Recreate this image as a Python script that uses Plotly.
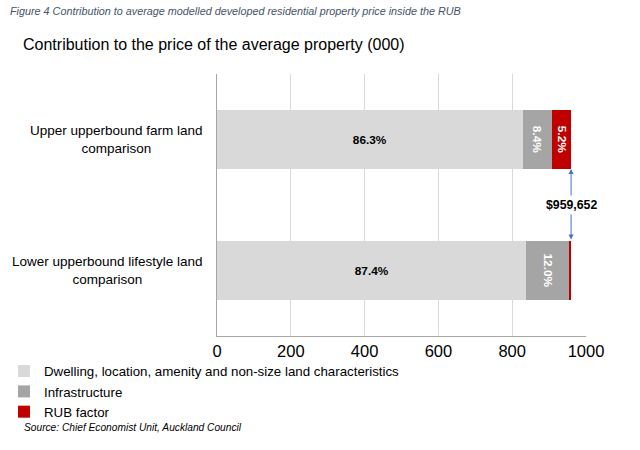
import plotly.graph_objects as go

categories = ["Lower upperbound lifestyle land<br>comparison", "Upper upperbound farm land<br>comparison"]
dwelling = [838.7, 828.2]
infrastructure = [115.2, 80.6]
rub_factor = [5.8, 50.8]
dwelling_labels = ["87.4%", "86.3%"]
infra_labels = ["12.0%", "8.4%"]
rub_labels = ["", "5.2%"]
total_label = "$959,652"
x_ticks = [0, 200, 400, 600, 800, 1000]

FONT = "Liberation Sans, Arial, sans-serif"
total = dwelling[1] + infrastructure[1] + rub_factor[1]

fig = go.Figure()
fig.add_trace(go.Bar(
    y=categories, x=dwelling, orientation="h", name="Dwelling, location, amenity and non-size land characteristics",
    marker=dict(color="#d9d9d9", line=dict(width=0)), text=dwelling_labels, textposition="inside",
    insidetextanchor="middle", textangle=0,
    textfont=dict(family=FONT, size=11.8, color="black", weight="bold"), width=0.45))
fig.add_trace(go.Bar(
    y=categories, x=infrastructure, orientation="h", name="Infrastructure",
    marker=dict(color="#a5a5a5", line=dict(width=0)), text=infra_labels, textposition="inside",
    insidetextanchor="middle", textangle=90, constraintext="none",
    textfont=dict(family=FONT, size=11.8, color="white", weight="bold"), width=0.45))
fig.add_trace(go.Bar(
    y=categories, x=rub_factor, orientation="h", name="RUB factor",
    marker=dict(color="#c00000", line=dict(width=0)), text=rub_labels, textposition="inside",
    insidetextanchor="middle", textangle=90, constraintext="none",
    textfont=dict(family=FONT, size=11.8, color="white", weight="bold"), width=0.45))

# double-headed arrow between bar ends
fig.add_annotation(x=total, y=0.775, ax=total, ay=0.225, xref="x", yref="y", axref="x", ayref="y",
                   showarrow=True, arrowhead=2, startarrowhead=2, arrowside="end+start",
                   arrowsize=1, arrowwidth=1, arrowcolor="#4472c4", text="")
fig.add_annotation(x=total, y=0.5, xref="x", yref="y", text="<b>" + total_label + "</b>", showarrow=False,
                   bgcolor="white", font=dict(family=FONT, size=12.3, color="black"), borderpad=2)

# category labels (centered multi-line, like the original)
for cat in categories:
    fig.add_annotation(x=-0.0325, y=cat, xref="paper", yref="y", xanchor="right", yanchor="middle",
                       align="center", text=cat, showarrow=False,
                       font=dict(family=FONT, size=13.5, color="black"))

fig.add_annotation(x=-0.566, y=1.24, xref="paper", yref="paper", xanchor="left", yanchor="middle",
                   text="<i>Figure 4 Contribution to average modelled developed residential property price inside the RUB</i>",
                   showarrow=False, font=dict(family=FONT, size=10.8, color="#44546a"))
fig.add_annotation(x=-0.531, y=1.111, xref="paper", yref="paper", xanchor="left", yanchor="middle",
                   text="Contribution to the price of the average property (000)",
                   showarrow=False, font=dict(family=FONT, size=16, color="black"))
fig.add_annotation(x=-0.528, y=-0.351, xref="paper", yref="paper", xanchor="left", yanchor="middle",
                   text="<i>Source: Chief Economist Unit, Auckland Council</i>",
                   showarrow=False, font=dict(family=FONT, size=10.2, color="black"))

fig.update_layout(
    barmode="stack", width=640, height=450,
    margin=dict(l=217, r=54, t=74, b=114, autoexpand=False),
    plot_bgcolor="white", paper_bgcolor="white",
    font=dict(family=FONT, color="black"),
    bargap=0.55,
    legend=dict(xref="container", yref="container", x=0.00625, y=0.209, xanchor="left", yanchor="top",
                orientation="v", traceorder="normal", font=dict(family=FONT, size=13.3, color="black"),
                itemwidth=30, tracegroupgap=0, bgcolor="rgba(0,0,0,0)"),
    xaxis=dict(range=[0, 1000], tickvals=x_ticks, showgrid=True, gridcolor="#d9d9d9", gridwidth=1,
               showline=True, linecolor="#a6a6a6", linewidth=1, zeroline=False, automargin=False,
               tickfont=dict(family=FONT, size=16.5, color="black"), ticks="", ticklen=0, tickangle=0),
    yaxis=dict(showline=True, linecolor="#a6a6a6", linewidth=1, showgrid=False, automargin=False,
               showticklabels=False, ticks="",
               categoryorder="array", categoryarray=categories),
)

fig.write_html("out.html", config={"displayModeBar": False},
               post_script="document.body.style.margin='0';")
